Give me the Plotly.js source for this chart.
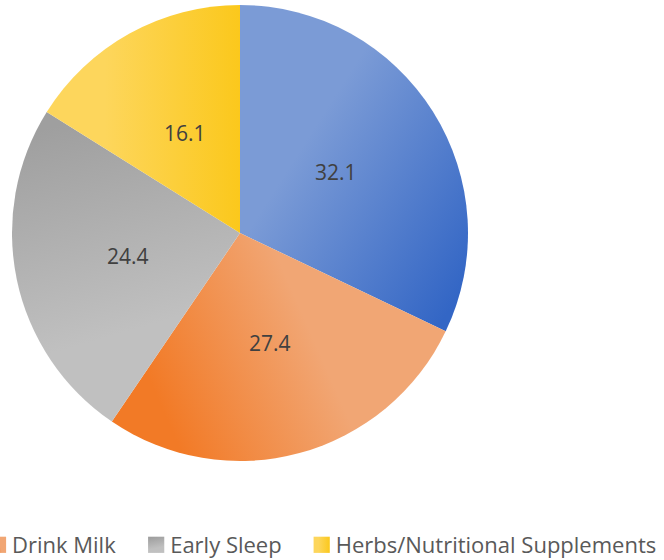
<!DOCTYPE html>
<html>
<head>
<meta charset="utf-8">
<script src="https://cdn.plot.ly/plotly-3.0.1.min.js"></script>
<style>
  html, body { margin: 0; padding: 0; background: #ffffff; overflow: hidden; }
  #frame { width: 664px; height: 560px; overflow: hidden; position: relative; }
  #chart { width: 720px; height: 560px; }
</style>
</head>
<body>
<div id="frame"><div id="chart"></div></div>
<script>
// Sleep-aid methods and their shares (%)
const methods = ["Exercise", "Drink Milk", "Early Sleep", "Herbs/Nutritional Supplements"];
const shares = [32.1, 27.4, 24.4, 16.1];
const sliceColors = ["#5d86d2", "#f29a5a", "#b0b0b0", "#fcd13e"];
// legend lists these methods only
const legendMethods = methods.slice(1);

// two-stop gradients per slice: [start colour, end colour, x1, y1, x2, y2]
const sliceGradients = [
  ["#7b9bd6", "#3366c5", 0.35, 0.35, 0.95, 0.9],
  ["#f27a26", "#f1a674", 0.1, 0.6, 0.6, 0.45],
  ["#9f9f9f", "#c0c0c0", 0.4, 0.0, 0.55, 0.7],
  ["#fdd65c", "#fbc81c", 0.3, 0.5, 1.0, 0.5]
];

// drawing surface is a little wider than the visible frame so the
// legend stays on one row; the frame crops the spare right edge
const W = 720, H = 560, B = 60;
const pieDomain = { x: [12 / W, 468 / W], y: [1 - 461 / (H - B), 1 - 5 / (H - B)] };

// legend carrier: a vanishingly small pie hidden under the main one
const legendTrace = {
  type: "pie",
  labels: legendMethods,
  values: shares.slice(1),
  sort: false,
  marker: { colors: sliceColors.slice(1), line: { width: 0 } },
  textinfo: "none",
  hoverinfo: "none",
  domain: { x: [240 / W, 240.4 / W], y: [0.535, 0.5355] },
  showlegend: true
};

const pieTrace = {
  type: "pie",
  labels: methods,
  values: shares,
  textinfo: "none",
  sort: false,
  direction: "clockwise",
  rotation: 0,
  marker: { colors: sliceColors, line: { width: 0 } },
  domain: pieDomain,
  hoverinfo: "none",
  showlegend: false
};

// value labels at half radius along each slice's middle angle
const total = shares.reduce((a, b) => a + b, 0);
const labelAnnotations = [];
let cum = 0;
shares.forEach(v => {
  const theta = (90 - 360 * (cum + v / 2) / total) * Math.PI / 180;
  labelAnnotations.push({
    xref: "x", yref: "y",
    x: 0.5 * Math.cos(theta),
    y: 0.5 * Math.sin(theta),
    text: v.toFixed(1),
    showarrow: false,
    xanchor: "center", yanchor: "middle",
    font: { family: "Open Sans, sans-serif", size: 21, color: "#404040" }
  });
  cum += v;
});

const hiddenAxis = { visible: false, range: [-1, 1], fixedrange: true };

const layout = {
  width: W,
  height: H,
  margin: { l: 0, r: 0, t: 0, b: B, autoexpand: false },
  paper_bgcolor: "#ffffff",
  plot_bgcolor: "rgba(0,0,0,0)",
  xaxis: Object.assign({ domain: pieDomain.x }, hiddenAxis),
  yaxis: Object.assign({ domain: pieDomain.y }, hiddenAxis),
  annotations: labelAnnotations,
  showlegend: true,
  legend: {
    orientation: "h",
    x: -37 / W,
    xanchor: "left",
    y: -45 / (H - B),
    yanchor: "middle",
    itemwidth: 39,
    font: { family: "Open Sans, sans-serif", size: 22, color: "#595959" },
    traceorder: "normal"
  }
};

function applyGradients(gd) {
  const svg = gd.querySelector("svg.main-svg");
  const ns = "http://www.w3.org/2000/svg";
  let defs = svg.querySelector("defs#slice-grads");
  if (!defs) {
    defs = document.createElementNS(ns, "defs");
    defs.setAttribute("id", "slice-grads");
    sliceGradients.forEach((g, i) => {
      const lg = document.createElementNS(ns, "linearGradient");
      lg.setAttribute("id", "sg" + i);
      lg.setAttribute("x1", g[2]); lg.setAttribute("y1", g[3]);
      lg.setAttribute("x2", g[4]); lg.setAttribute("y2", g[5]);
      [[0, g[0]], [1, g[1]]].forEach(([o, c]) => {
        const s = document.createElementNS(ns, "stop");
        s.setAttribute("offset", o);
        s.setAttribute("stop-color", c);
        lg.appendChild(s);
      });
      defs.appendChild(lg);
    });
    svg.insertBefore(defs, svg.firstChild);
  }
  const pieGroups = gd.querySelectorAll(".pielayer .trace");
  const mainPie = pieGroups[pieGroups.length - 1];
  mainPie.querySelectorAll(".slice path.surface").forEach((p, i) => {
    p.style.fill = "url(#sg" + i + ")";
  });
  // legend swatches: gradient fill, ~15px square ending 6px before the text
  gd.querySelectorAll(".legend .traces").forEach((t, i) => {
    const p = t.querySelector("path.legendpie");
    const txt = t.querySelector("text.legendtext");
    if (p) {
      p.style.fill = "url(#sg" + (i + 1) + ")";
      const tx = txt ? parseFloat(txt.getAttribute("x")) : 49;
      p.setAttribute("transform", "translate(" + (tx - 14) + ",0) scale(1.35)");
    }
  });
}

Plotly.newPlot("chart", [legendTrace, pieTrace], layout,
  { displayModeBar: false, staticPlot: true }).then(gd => {
  applyGradients(gd);
});
</script>
</body>
</html>
